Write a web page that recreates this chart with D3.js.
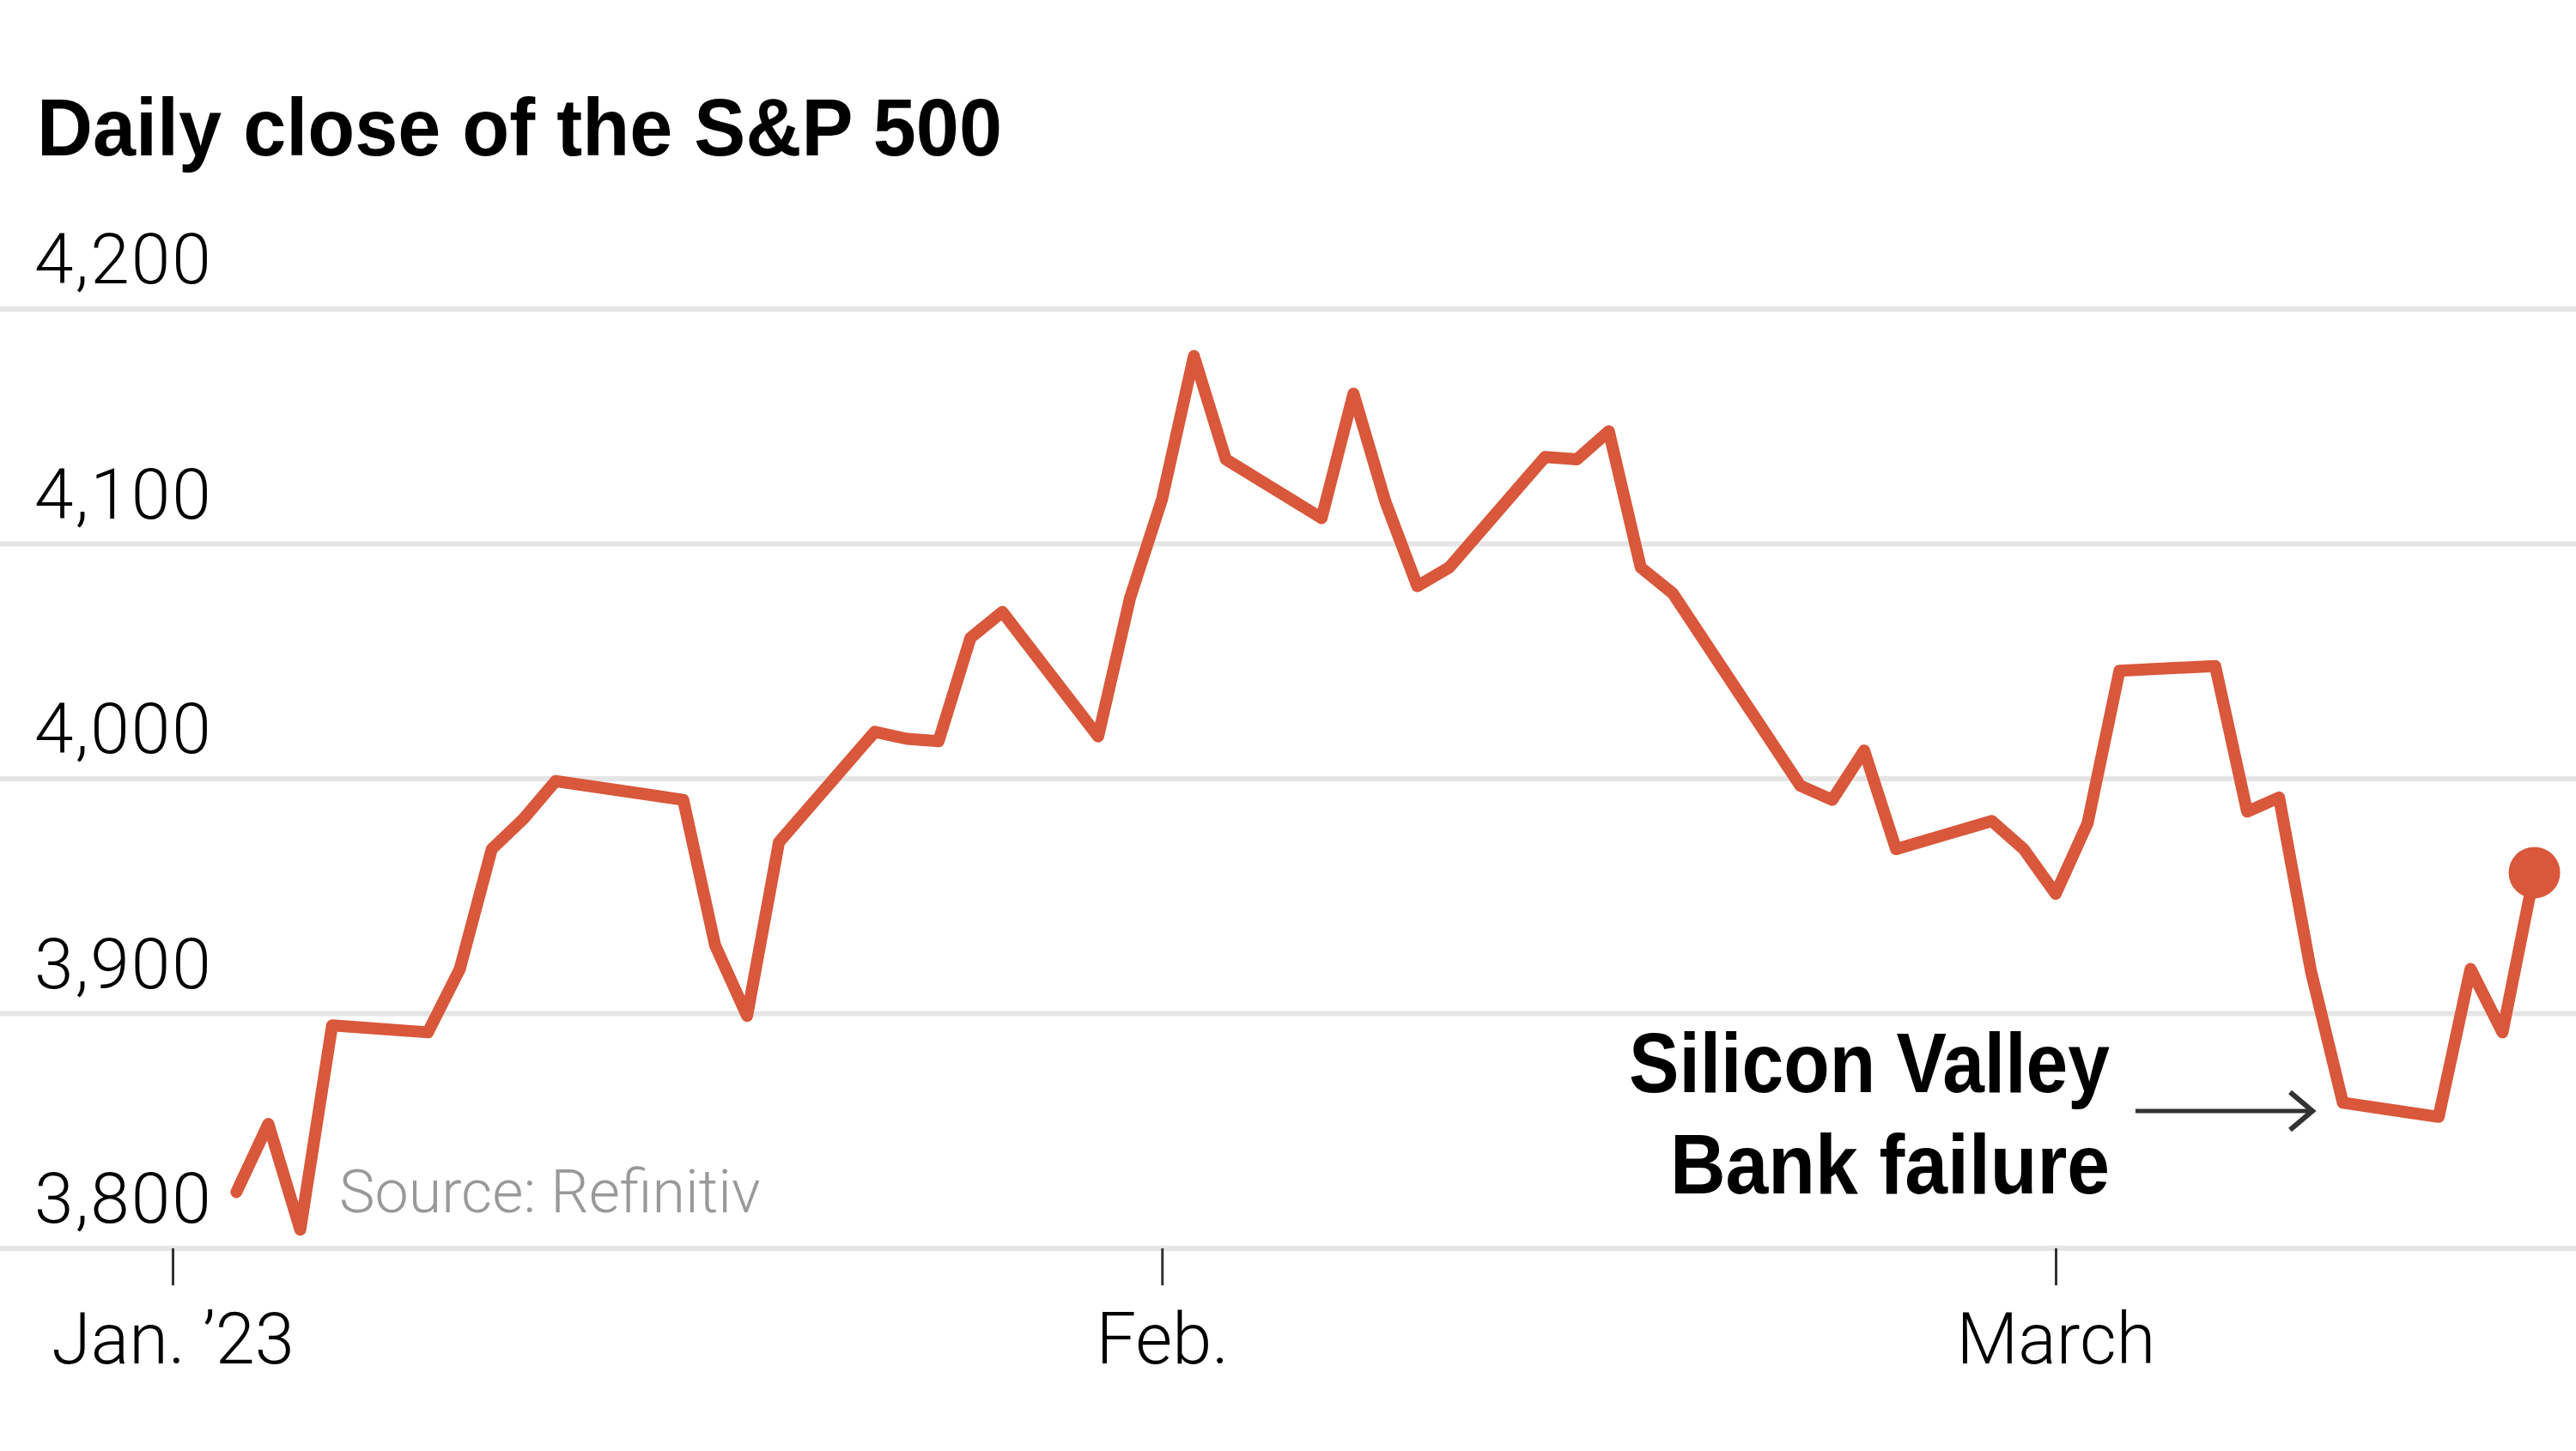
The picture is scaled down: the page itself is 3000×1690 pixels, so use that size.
<!DOCTYPE html>
<html>
<head>
<meta charset="utf-8">
<script src="https://cdn.jsdelivr.net/npm/d3@7"></script>
<style>
  html, body { margin: 0; padding: 0; background: #fff; }
  svg { display: block; }
</style>
</head>
<body>
<div id="chart"></div>
<script>
// S&P 500 daily closes, Jan 3 - Mar 16 2023
const dates = [
  "2023-01-03", "2023-01-04", "2023-01-05", "2023-01-06", "2023-01-09", "2023-01-10",
  "2023-01-11", "2023-01-12", "2023-01-13", "2023-01-17", "2023-01-18", "2023-01-19",
  "2023-01-20", "2023-01-23", "2023-01-24", "2023-01-25", "2023-01-26", "2023-01-27",
  "2023-01-30", "2023-01-31", "2023-02-01", "2023-02-02", "2023-02-03", "2023-02-06",
  "2023-02-07", "2023-02-08", "2023-02-09", "2023-02-10", "2023-02-13", "2023-02-14",
  "2023-02-15", "2023-02-16", "2023-02-17", "2023-02-21", "2023-02-22", "2023-02-23",
  "2023-02-24", "2023-02-27", "2023-02-28", "2023-03-01", "2023-03-02", "2023-03-03",
  "2023-03-06", "2023-03-07", "2023-03-08", "2023-03-09", "2023-03-10", "2023-03-13",
  "2023-03-14", "2023-03-15", "2023-03-16"
];
const closes = [
  3824, 3853, 3808, 3895, 3892, 3919,
  3970, 3983, 3999, 3991, 3929, 3899,
  3973, 4020, 4017, 4016, 4060, 4071,
  4018, 4077, 4119, 4180, 4136, 4111,
  4164, 4118, 4082, 4090, 4137, 4136,
  4148, 4090, 4079, 3997, 3991, 4012,
  3970, 3982, 3970, 3951, 3981, 4046,
  4048, 3986, 3992, 3918, 3862, 3856,
  3919, 3892, 3960
];
const yTicks = [3800, 3900, 4000, 4100, 4200];
const xTicks = ["2023-01-01", "2023-02-01", "2023-03-01"];
const xTickLabels = ["Jan. \u201923", "Feb.", "March"];
const annotationLines = ["Silicon Valley", "Bank failure"];

const width = 3000, height = 1690;
const lineColor = "#d9573b";
const parse = d3.timeParse("%Y-%m-%d");

const data = dates.map((d, i) => ({date: parse(d), value: closes[i]}));

const svg = d3.select("#chart").append("svg")
    .attr("width", width)
    .attr("height", height);

const x = d3.scaleTime()
    .domain([parse("2023-01-01"), parse("2023-03-01")])
    .range([201, 2394]);

const y = d3.scaleLinear()
    .domain([3800, 4200])
    .range([1454, 360]);

// Title
svg.append("text")
    .attr("x", 43)
    .attr("y", 181)
    .attr("font-family", "Liberation Sans, Arial, sans-serif")
    .attr("font-weight", 700)
    .attr("font-size", 95)
    .attr("textLength", 1124)
    .attr("lengthAdjust", "spacingAndGlyphs")
    .attr("fill", "#000")
    .text("Daily close of the S&P 500");

// Gridlines and y labels
const grid = svg.append("g").attr("class", "grid");
grid.selectAll("line")
    .data(yTicks)
    .join("line")
    .attr("x1", 0)
    .attr("x2", width)
    .attr("y1", d => y(d))
    .attr("y2", d => y(d))
    .attr("stroke", "#e5e5e5")
    .attr("stroke-width", 6);

grid.selectAll("text")
    .data(yTicks)
    .join("text")
    .attr("x", 40)
    .attr("y", d => y(d) - 30)
    .attr("font-family", "Roboto, sans-serif")
    .attr("font-weight", 300)
    .attr("font-size", 82)
    .attr("letter-spacing", 2)
    .attr("fill", "#000")
    .text(d => d3.format(",")(d));

// X axis ticks
const xAxis = svg.append("g")
    .attr("transform", "translate(0," + y(3800) + ")")
    .call(d3.axisBottom(x)
        .tickValues(xTicks.map(parse))
        .tickSize(43)
        .tickPadding(32)
        .tickFormat((d, i) => xTickLabels[i]));
xAxis.select(".domain").remove();
xAxis.selectAll(".tick line")
    .attr("stroke", "#333")
    .attr("stroke-width", 3);
xAxis.selectAll(".tick text")
    .attr("font-family", "Roboto, sans-serif")
    .attr("font-weight", 300)
    .attr("font-size", 83)
    .attr("fill", "#000");

// Source
svg.append("text")
    .attr("x", 395)
    .attr("y", 1412)
    .attr("font-family", "Roboto, sans-serif")
    .attr("font-weight", 300)
    .attr("font-size", 70)
    .attr("fill", "#999")
    .text("Source: Refinitiv");

// Line
const line = d3.line()
    .x(d => x(d.date))
    .y(d => y(d.value));

svg.append("path")
    .datum(data)
    .attr("d", line)
    .attr("fill", "none")
    .attr("stroke", lineColor)
    .attr("stroke-width", 14)
    .attr("stroke-linejoin", "round")
    .attr("stroke-linecap", "round");

const last = data[data.length - 1];
svg.append("circle")
    .attr("cx", x(last.date))
    .attr("cy", y(last.value))
    .attr("r", 30)
    .attr("fill", lineColor);

// Annotation
const ann = svg.append("g").attr("class", "annotation");
ann.selectAll("text")
    .data(annotationLines)
    .join("text")
    .attr("x", 2457)
    .attr("y", (d, i) => 1272 + i * 118)
    .attr("text-anchor", "end")
    .attr("font-family", "Liberation Sans, Arial, sans-serif")
    .attr("font-weight", 700)
    .attr("font-size", 98)
    .attr("textLength", (d, i) => i === 0 ? 560 : 512)
    .attr("lengthAdjust", "spacingAndGlyphs")
    .attr("fill", "#000")
    .text(d => d);

const arrowY = 1294;
ann.append("line")
    .attr("x1", 2487)
    .attr("x2", 2692)
    .attr("y1", arrowY)
    .attr("y2", arrowY)
    .attr("stroke", "#333")
    .attr("stroke-width", 5);
ann.append("path")
    .attr("d", "M2667," + (arrowY - 22) + "L2693," + arrowY + "L2667," + (arrowY + 22))
    .attr("fill", "none")
    .attr("stroke", "#333")
    .attr("stroke-width", 6);
</script>
</body>
</html>
